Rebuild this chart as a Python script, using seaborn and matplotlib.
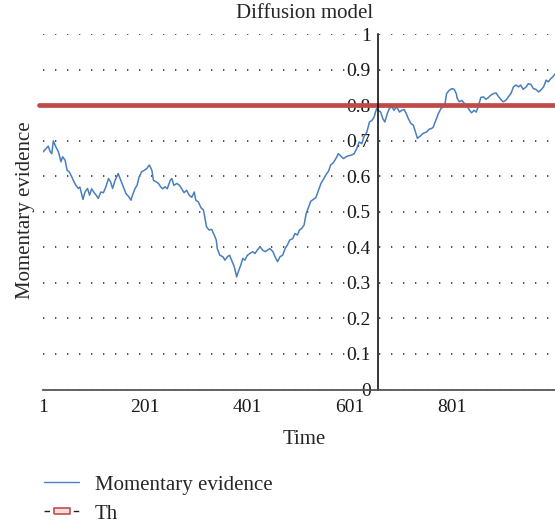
import pandas as pd
import seaborn as sns
import matplotlib.pyplot as plt
from matplotlib.lines import Line2D

# values
time = [1, 11, 15, 18, 21, 26, 31, 36, 39, 44, 48, 52, 57, 60, 65, 70, 73, 79, 83, 88,
        92, 96, 101, 105, 109, 114, 119, 124, 129, 133, 137, 142, 148, 153, 158, 163, 168, 173, 176, 181,
        185, 189, 194, 199, 204, 209, 214, 217, 222, 227, 231, 235, 240, 244, 250, 253, 257, 263, 268, 272,
        277, 282, 287, 292, 297, 300, 305, 310, 315, 318, 321, 326, 331, 336, 340, 342, 347, 353, 357, 362,
        366, 370, 375, 380, 383, 388, 392, 396, 401, 406, 411, 416, 420, 426, 431, 436, 440, 445, 451, 455,
        460, 465, 470, 475, 479, 484, 490, 494, 499, 503, 507, 512, 516, 520, 525, 530, 535, 540, 545, 550,
        555, 560, 564, 569, 575, 579, 584, 589, 594, 599, 605, 610, 615, 620, 625, 629, 635, 640, 645, 649,
        654, 657, 662, 666, 670, 675, 679, 684, 688, 693, 699, 703, 708, 712, 716, 721, 726, 729, 734, 739,
        745, 752, 757, 762, 765, 770, 775, 780, 785, 788, 791, 796, 801, 806, 810, 812, 816, 821, 825, 830,
        836, 840, 845, 849, 853, 858, 863, 868, 873, 877, 883, 888, 892, 897, 902, 907, 912, 917, 922, 927,
        932, 936, 941, 947, 951, 956, 961, 966, 971, 975, 981, 986, 990, 995, 999, 1003]
evidence = [0.669, 0.685, 0.669, 0.664, 0.700, 0.683, 0.669, 0.641, 0.655, 0.646, 0.617, 0.613, 0.599, 0.589, 0.575, 0.566, 0.570, 0.535, 0.556, 0.566,
            0.547, 0.565, 0.554, 0.547, 0.538, 0.556, 0.554, 0.571, 0.594, 0.585, 0.566, 0.589, 0.608, 0.589, 0.571, 0.552, 0.544, 0.533, 0.547, 0.566,
            0.575, 0.599, 0.613, 0.617, 0.622, 0.632, 0.617, 0.589, 0.585, 0.580, 0.571, 0.565, 0.571, 0.565, 0.589, 0.594, 0.575, 0.580, 0.575, 0.566,
            0.554, 0.561, 0.547, 0.541, 0.556, 0.533, 0.528, 0.512, 0.505, 0.482, 0.458, 0.449, 0.451, 0.435, 0.421, 0.397, 0.378, 0.374, 0.364, 0.374,
            0.378, 0.364, 0.347, 0.317, 0.331, 0.350, 0.369, 0.364, 0.378, 0.383, 0.388, 0.383, 0.392, 0.402, 0.392, 0.388, 0.392, 0.397, 0.388, 0.374,
            0.360, 0.374, 0.378, 0.397, 0.406, 0.421, 0.425, 0.439, 0.435, 0.449, 0.453, 0.463, 0.495, 0.510, 0.530, 0.535, 0.540, 0.560, 0.580, 0.592,
            0.605, 0.615, 0.632, 0.638, 0.652, 0.664, 0.657, 0.650, 0.655, 0.658, 0.660, 0.664, 0.678, 0.697, 0.692, 0.711, 0.725, 0.753, 0.758, 0.767,
            0.791, 0.786, 0.781, 0.763, 0.753, 0.777, 0.791, 0.796, 0.786, 0.796, 0.781, 0.786, 0.788, 0.777, 0.763, 0.749, 0.744, 0.730, 0.707, 0.713,
            0.721, 0.725, 0.733, 0.735, 0.739, 0.758, 0.777, 0.791, 0.796, 0.805, 0.833, 0.842, 0.847, 0.845, 0.833, 0.819, 0.810, 0.814, 0.807, 0.800,
            0.786, 0.779, 0.786, 0.781, 0.796, 0.822, 0.824, 0.817, 0.822, 0.828, 0.833, 0.835, 0.826, 0.817, 0.810, 0.814, 0.824, 0.833, 0.852, 0.857,
            0.852, 0.857, 0.845, 0.852, 0.861, 0.859, 0.847, 0.845, 0.838, 0.842, 0.852, 0.871, 0.866, 0.875, 0.880, 0.888]
threshold = 0.8
x_ticks = [1, 201, 401, 601, 801]
y_ticks = [0, 0.1, 0.2, 0.3, 0.4, 0.5, 0.6, 0.7, 0.8, 0.9, 1]
y_labels = ['0', '0.1', '0.2', '0.3', '0.4', '0.5', '0.6', '0.7', '0.8', '0.9', '1']
axis_cross = 656

df = pd.DataFrame({'Time': time, 'evidence': evidence})

sns.set_style("white")
plt.rcParams['font.family'] = ['Liberation Serif', 'DejaVu Serif']

fig = plt.figure(figsize=(5.55, 5.22), dpi=100)
ax = fig.add_axes([0.0777, 0.2538, 0.9404, 0.6805])

sns.lineplot(data=df, x='Time', y='evidence', ax=ax, color='#4a7ebb', lw=1.1, zorder=1.6)
ax.axhline(threshold, xmin=-0.008, xmax=1, color='#be4b48', lw=3.4, clip_on=False, zorder=2)

ax.set_xlim(1, 1023)
ax.set_ylim(0, 1)
ax.set_xticks(x_ticks)
ax.set_xticklabels([str(t) for t in x_ticks])
ax.set_yticks(y_ticks)
ax.set_yticklabels(y_labels)
ax.yaxis.grid(True, color='#333333', lw=1.2, linestyle=(0, (0.8, 6.4)))
ax.xaxis.grid(False)

ax.spines['top'].set_visible(False)
ax.spines['right'].set_visible(False)
ax.spines['left'].set_position(('data', axis_cross))
ax.spines['left'].set_color('black')
ax.spines['left'].set_linewidth(1.1)
ax.spines['bottom'].set_color('#555555')
ax.spines['bottom'].set_linewidth(1.3)
ax.tick_params(axis='both', length=0, labelsize=14, colors='#1a1a1a')
ax.tick_params(axis='x', pad=7)
ax.tick_params(axis='y', pad=5)

ax.set_xlabel('Time', fontsize=15, labelpad=10)
ax.set_ylabel('')
fig.text(26/555, 1 - 210/522, 'Momentary evidence', rotation=90, ha='center', va='center', fontsize=15)
ax.set_title('Diffusion model', fontsize=15, pad=12)

h1 = Line2D([], [], color='#4f81bd', lw=1.0)
rect = [(-1, -0.35), (1, -0.35), (1, 0.35), (-1, 0.35), (-1, -0.35)]
h2 = Line2D([], [], color='#222222', lw=1.0, ls=(0, (4, 3)), marker=rect, markersize=12,
            markerfacecolor='#f4dcdc', markeredgecolor='#c0504d', markeredgewidth=1.2)
fig.legend([h1, h2], ['Momentary evidence', 'Th'], loc='upper left',
           bbox_to_anchor=(44/555, 1 - 475/522), frameon=False, fontsize=15,
           handlelength=1.7, handletextpad=0.75, labelspacing=0.45, borderaxespad=0, borderpad=0)

fig.savefig('out.png', dpi=100)
